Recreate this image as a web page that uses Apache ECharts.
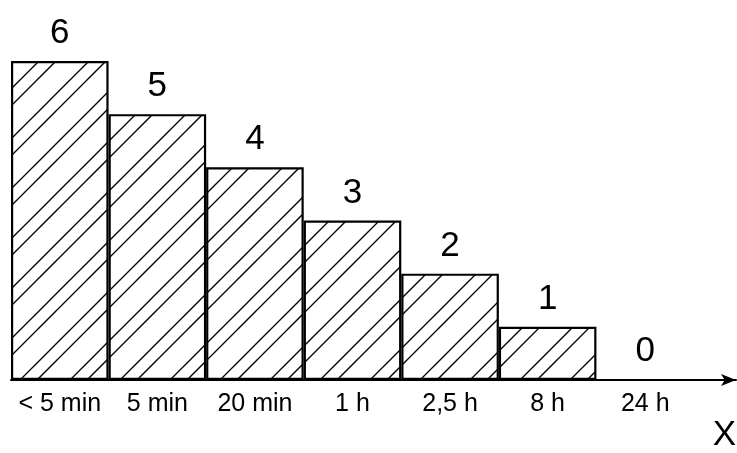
<!DOCTYPE html>
<html>
<head>
<meta charset="utf-8">
<script src="https://cdn.jsdelivr.net/npm/echarts@6/dist/echarts.min.js"></script>
<style>
  html, body { margin: 0; padding: 0; background: #fff; }
  #chart { width: 737px; height: 453px; }
</style>
</head>
<body>
<div id="chart"></div>
<script>
const categories = ['< 5 min', '5 min', '20 min', '1 h', '2,5 h', '8 h', '24 h']
const values = [6, 5, 4, 3, 2, 1, 0]
const axisName = 'X'

// diagonal hatch tile: two lines per period, 17px then 33px apart
const makeHatch = () => {
  const p = 50
  const c = document.createElement('canvas')
  c.width = p
  c.height = p
  const ctx = c.getContext('2d')
  ctx.strokeStyle = '#000'
  ctx.lineWidth = 1.3
  ;[0, 17].forEach((off) => {
    for (let k = -1; k <= 1; k++) {
      const b = p + off + k * p
      ctx.beginPath()
      ctx.moveTo(-5, b + 5)
      ctx.lineTo(p + 5, b - p - 5)
      ctx.stroke()
    }
  })
  return c
}

const font = 'Liberation Sans, Arial, sans-serif'
const chart = echarts.init(document.getElementById('chart'))

chart.setOption({
  animation: false,
  grid: [
    { left: 11, right: 43, top: 61, bottom: 73 },
    { left: 11, right: 1, top: 61, bottom: 73 },
  ],
  xAxis: [
    {
      type: 'category',
      gridIndex: 0,
      data: categories,
      axisLine: { show: false },
      axisTick: { show: false },
      axisLabel: { interval: 0, color: '#000', fontSize: 25, fontFamily: font, margin: 12 },
    },
    {
      type: 'value',
      gridIndex: 1,
      min: 0,
      max: 1,
      axisLine: {
        show: true,
        lineStyle: { color: '#000', width: 2 },
        symbol: ['none', 'arrow'],
        symbolSize: [9, 15],
      },
      axisTick: { show: false },
      axisLabel: { show: false },
      splitLine: { show: false },
    },
  ],
  yAxis: [
    { type: 'value', gridIndex: 0, min: 0, max: 6, show: false },
    { type: 'value', gridIndex: 1, min: 0, max: 6, show: false },
  ],
  graphic: [
    {
      type: 'text',
      right: 1,
      bottom: 0,
      style: { text: axisName, fontSize: 35, fontFamily: font, fill: '#000' },
    },
  ],
  series: [
    {
      type: 'bar',
      xAxisIndex: 0,
      yAxisIndex: 0,
      data: values,
      barWidth: '100%',
      itemStyle: {
        color: { image: makeHatch(), repeat: 'repeat' },
        borderColor: '#000',
        borderWidth: 2.2,
      },
      label: {
        show: true,
        position: 'top',
        distance: 10,
        color: '#000',
        fontSize: 35,
        fontFamily: font,
      },
    },
  ],
})
</script>
</body>
</html>
